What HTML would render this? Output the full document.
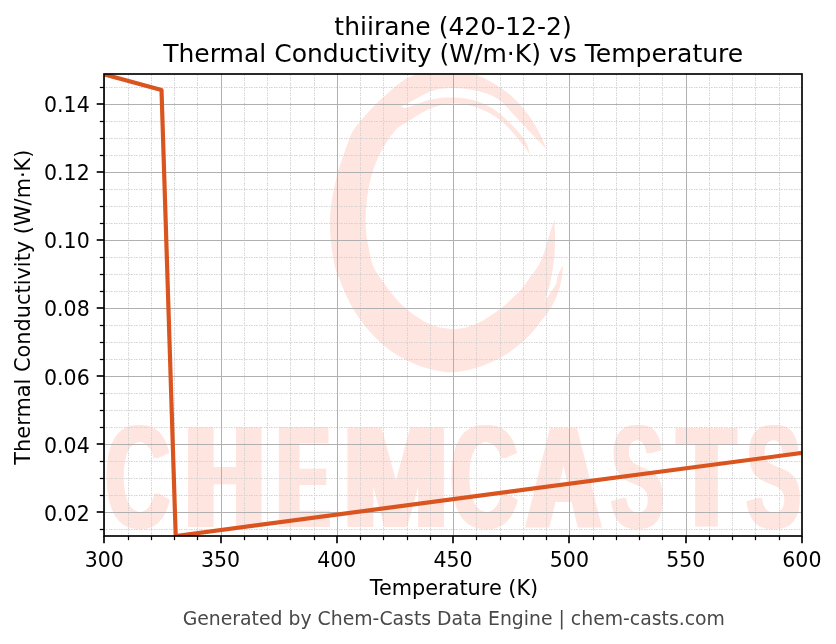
<!DOCTYPE html>
<html lang="en"><head><meta charset="utf-8"><title>thiirane (420-12-2) Thermal Conductivity vs Temperature</title>
<style>html,body{margin:0;padding:0;background:#fff}svg{display:block}</style></head>
<body>
<svg width="836" height="644" viewBox="0 0 836 644">
<defs><clipPath id="ax"><rect x="104.00" y="74.00" width="698.00" height="462.00"/></clipPath></defs>
<rect width="836" height="644" fill="#fff"/>
<g clip-path="url(#ax)" fill="#ffe5e0">
<path d="M546.6 149.3C545.6 146.9 543.5 140.8 540.5 135.0C537.5 129.2 533.0 121.1 528.3 114.7C523.5 108.3 518.1 101.8 512.0 96.4C505.9 91.0 498.5 86.0 491.7 82.2C484.9 78.4 479.6 75.4 471.0 73.5C462.4 71.6 449.1 70.8 440.0 71.0C430.9 71.2 422.7 72.8 416.4 74.5C410.1 76.2 406.6 78.5 402.2 81.3C397.8 84.1 394.5 87.2 390.0 91.2C385.5 95.2 379.4 100.6 375.0 105.0C370.6 109.4 367.1 113.3 363.5 117.5C359.9 121.7 356.1 125.9 353.5 130.0C350.9 134.1 349.8 137.9 348.2 142.0C346.6 146.1 345.1 150.6 343.6 154.8C342.1 159.0 340.6 162.9 339.4 167.0C338.1 171.1 337.5 173.4 336.1 179.6C334.7 185.8 332.2 196.9 331.2 204.4C330.2 211.9 329.9 217.7 329.9 224.3C329.9 230.9 330.4 237.1 331.2 244.1C332.0 251.1 333.5 260.5 334.9 266.5C336.3 272.5 337.8 275.0 339.8 280.0C341.8 285.0 344.1 291.1 346.8 296.7C349.5 302.3 352.4 307.9 356.0 313.5C359.6 319.1 364.0 324.9 368.6 330.2C373.2 335.5 378.3 340.8 383.6 345.3C388.9 349.8 394.2 353.5 400.4 357.0C406.5 360.5 413.8 363.8 420.5 366.2C427.2 368.6 435.1 370.3 440.6 371.3C446.1 372.3 447.5 372.7 453.4 372.1C459.3 371.5 468.2 370.3 476.0 367.9C483.8 365.5 493.7 361.2 500.3 357.9C506.9 354.5 510.6 351.4 515.4 347.8C520.1 344.2 524.6 340.4 528.8 336.1C533.0 331.8 536.9 326.5 540.5 321.9C544.1 317.3 547.7 313.0 550.5 308.5C553.3 304.0 555.4 299.9 557.2 295.1C559.0 290.4 560.4 285.0 561.4 280.0C562.4 275.0 562.9 267.5 563.2 265.0C562.4 266.6 559.5 271.2 558.2 274.5C556.9 277.8 557.2 281.6 555.6 285.0C554.0 288.4 550.7 292.3 548.9 295.1C547.1 297.9 545.4 300.7 544.7 301.8C545.5 299.0 548.5 289.6 549.7 285.0C550.9 280.4 550.9 279.4 551.7 274.5C552.5 269.6 554.0 262.1 554.5 255.9C555.0 249.7 555.0 243.4 555.0 237.3C555.0 231.2 554.6 222.6 554.5 219.6C553.7 221.9 551.5 228.1 549.8 233.5C548.1 238.9 546.1 246.9 544.2 252.2C542.3 257.5 541.1 260.8 538.6 265.2C536.1 269.6 532.1 274.4 529.3 278.3C526.5 282.2 524.9 285.0 522.0 288.4C519.1 291.8 515.3 295.2 512.0 298.4C508.7 301.6 505.6 304.7 502.0 307.6C498.4 310.5 494.5 313.3 490.2 316.0C485.9 318.7 481.0 321.8 476.0 323.9C471.0 326.0 464.8 327.8 460.0 328.6C455.2 329.4 452.2 329.3 447.3 328.6C442.4 327.9 435.8 326.5 430.5 324.4C425.2 322.3 420.2 319.2 415.5 316.0C410.8 312.8 406.3 309.2 402.1 305.1C397.9 301.1 393.7 295.9 390.3 291.7C386.9 287.5 384.8 284.2 382.0 280.0C379.2 275.8 375.6 272.1 373.3 266.5C371.0 260.9 369.6 252.8 368.4 246.6C367.2 240.4 366.3 235.1 365.9 229.3C365.5 223.5 365.5 218.5 365.9 211.9C366.3 205.3 367.2 196.6 368.4 189.6C369.6 182.6 371.0 176.3 373.3 169.7C375.6 163.1 378.3 156.5 382.0 149.9C385.7 143.3 391.5 134.7 395.7 130.0C399.9 125.3 401.5 125.5 407.3 121.9C413.1 118.3 423.1 111.7 430.7 108.6C438.3 105.5 445.6 103.8 453.0 103.5C460.4 103.2 467.2 104.3 475.0 107.0C482.8 109.7 491.6 113.3 499.8 119.8C508.0 126.3 519.1 139.9 524.2 146.2C529.3 152.5 529.3 155.5 530.3 157.4C529.3 154.3 529.3 146.4 524.2 139.1C519.1 131.8 507.5 120.0 499.8 113.7C492.1 107.4 485.8 104.2 478.0 101.5C470.2 98.8 460.9 97.8 453.0 97.5C445.1 97.2 438.3 97.8 430.7 99.5C423.1 101.2 412.2 106.4 407.3 107.6C402.4 108.8 402.1 106.8 401.0 106.6C402.1 106.1 402.4 106.1 407.3 103.6C412.2 101.1 423.1 94.0 430.7 91.4C438.3 88.8 444.9 87.9 453.0 87.9C461.1 87.9 471.7 89.4 479.5 91.5C487.3 93.6 492.4 94.8 499.8 100.5C507.2 106.2 516.4 117.8 524.2 125.9C532.0 134.0 542.9 145.4 546.6 149.3Z"/>
<filter id="fat" x="90" y="410" width="730" height="140" filterUnits="userSpaceOnUse"><feMorphology operator="dilate" radius="5 0"/></filter>
<filter id="fat2" x="90" y="410" width="730" height="140" filterUnits="userSpaceOnUse"><feMorphology operator="dilate" radius="2 0"/></filter>
<g filter="url(#fat2)" font-family="'Liberation Sans', 'DejaVu Sans', sans-serif" font-weight="bold">
<text transform="translate(104.77,528.07) scale(0.9101,1.4689)" font-size="100">C</text>
<text transform="translate(449.58,528.07) scale(0.9559,1.4689)" font-size="100">C</text>
<text transform="translate(610.69,528.07) scale(0.8012,1.4689)" font-size="100">S</text>
<text transform="translate(746.12,528.07) scale(0.8262,1.4689)" font-size="100">S</text>
</g>
<g filter="url(#fat)" font-family="'Liberation Sans', 'DejaVu Sans', sans-serif" font-weight="bold">
<text transform="translate(185.77,526.50) scale(1.0801,1.4462)" font-size="100">H</text>
<text transform="translate(279.11,526.50) scale(0.7308,1.4462)" font-size="100">E</text>
<text transform="translate(344.22,526.50) scale(1.2371,1.4462)" font-size="100">M</text>
<text transform="translate(527.51,526.50) scale(0.9987,1.4462)" font-size="100">A</text>
<text transform="translate(679.51,526.50) scale(0.8831,1.4317)" font-size="100">T</text>
</g>

</g>
<g clip-path="url(#ax)" stroke="#d0d0d0" stroke-width="0.9" stroke-dasharray="1.2 0.6 1.8 1.4" fill="none">
<path d="M128.5 536.0V74.0"/>
<path d="M151.5 536.0V74.0"/>
<path d="M174.5 536.0V74.0"/>
<path d="M197.5 536.0V74.0"/>
<path d="M244.5 536.0V74.0"/>
<path d="M267.5 536.0V74.0"/>
<path d="M290.5 536.0V74.0"/>
<path d="M314.5 536.0V74.0"/>
<path d="M360.5 536.0V74.0"/>
<path d="M383.5 536.0V74.0"/>
<path d="M407.5 536.0V74.0"/>
<path d="M430.5 536.0V74.0"/>
<path d="M476.5 536.0V74.0"/>
<path d="M500.5 536.0V74.0"/>
<path d="M523.5 536.0V74.0"/>
<path d="M546.5 536.0V74.0"/>
<path d="M593.5 536.0V74.0"/>
<path d="M616.5 536.0V74.0"/>
<path d="M639.5 536.0V74.0"/>
<path d="M662.5 536.0V74.0"/>
<path d="M709.5 536.0V74.0"/>
<path d="M732.5 536.0V74.0"/>
<path d="M755.5 536.0V74.0"/>
<path d="M779.5 536.0V74.0"/>
<path d="M104.0 529.5H802.0"/>
<path d="M104.0 495.5H802.0"/>
<path d="M104.0 478.5H802.0"/>
<path d="M104.0 461.5H802.0"/>
<path d="M104.0 427.5H802.0"/>
<path d="M104.0 410.5H802.0"/>
<path d="M104.0 393.5H802.0"/>
<path d="M104.0 359.5H802.0"/>
<path d="M104.0 342.5H802.0"/>
<path d="M104.0 325.5H802.0"/>
<path d="M104.0 291.5H802.0"/>
<path d="M104.0 274.5H802.0"/>
<path d="M104.0 257.5H802.0"/>
<path d="M104.0 223.5H802.0"/>
<path d="M104.0 206.5H802.0"/>
<path d="M104.0 189.5H802.0"/>
<path d="M104.0 155.5H802.0"/>
<path d="M104.0 138.5H802.0"/>
<path d="M104.0 121.5H802.0"/>
<path d="M104.0 87.5H802.0"/>
</g>
<g clip-path="url(#ax)" stroke="#b0b0b0" stroke-width="1" fill="none">
<path d="M104.5 536.0V74.0"/>
<path d="M221.5 536.0V74.0"/>
<path d="M337.5 536.0V74.0"/>
<path d="M453.5 536.0V74.0"/>
<path d="M569.5 536.0V74.0"/>
<path d="M686.5 536.0V74.0"/>
<path d="M802.5 536.0V74.0"/>
<path d="M104.0 512.5H802.0"/>
<path d="M104.0 444.5H802.0"/>
<path d="M104.0 376.5H802.0"/>
<path d="M104.0 308.5H802.0"/>
<path d="M104.0 240.5H802.0"/>
<path d="M104.0 172.5H802.0"/>
<path d="M104.0 104.5H802.0"/>
</g>
<path clip-path="url(#ax)" d="M104.00 74.30 L161.50 89.90 L175.70 536.00 L802.00 452.90" fill="none" stroke="#d9541e" stroke-width="4.17" stroke-linejoin="round" stroke-linecap="butt"/>
<g stroke="#000" fill="none">
<g stroke-width="1.67">
<path d="M104 536.0v7.3"/>
<path d="M221 536.0v7.3"/>
<path d="M337 536.0v7.3"/>
<path d="M453 536.0v7.3"/>
<path d="M569 536.0v7.3"/>
<path d="M686 536.0v7.3"/>
<path d="M802 536.0v7.3"/>
<path d="M104.0 512h-7.3"/>
<path d="M104.0 444h-7.3"/>
<path d="M104.0 376h-7.3"/>
<path d="M104.0 308h-7.3"/>
<path d="M104.0 240h-7.3"/>
<path d="M104.0 172h-7.3"/>
<path d="M104.0 104h-7.3"/>
</g><g stroke-width="1.25">
<path d="M128.5 536.0v4.17"/>
<path d="M151.5 536.0v4.17"/>
<path d="M174.5 536.0v4.17"/>
<path d="M197.5 536.0v4.17"/>
<path d="M244.5 536.0v4.17"/>
<path d="M267.5 536.0v4.17"/>
<path d="M290.5 536.0v4.17"/>
<path d="M314.5 536.0v4.17"/>
<path d="M360.5 536.0v4.17"/>
<path d="M383.5 536.0v4.17"/>
<path d="M407.5 536.0v4.17"/>
<path d="M430.5 536.0v4.17"/>
<path d="M476.5 536.0v4.17"/>
<path d="M500.5 536.0v4.17"/>
<path d="M523.5 536.0v4.17"/>
<path d="M546.5 536.0v4.17"/>
<path d="M593.5 536.0v4.17"/>
<path d="M616.5 536.0v4.17"/>
<path d="M639.5 536.0v4.17"/>
<path d="M662.5 536.0v4.17"/>
<path d="M709.5 536.0v4.17"/>
<path d="M732.5 536.0v4.17"/>
<path d="M755.5 536.0v4.17"/>
<path d="M779.5 536.0v4.17"/>
<path d="M104.0 529.5h-4.17"/>
<path d="M104.0 495.5h-4.17"/>
<path d="M104.0 478.5h-4.17"/>
<path d="M104.0 461.5h-4.17"/>
<path d="M104.0 427.5h-4.17"/>
<path d="M104.0 410.5h-4.17"/>
<path d="M104.0 393.5h-4.17"/>
<path d="M104.0 359.5h-4.17"/>
<path d="M104.0 342.5h-4.17"/>
<path d="M104.0 325.5h-4.17"/>
<path d="M104.0 291.5h-4.17"/>
<path d="M104.0 274.5h-4.17"/>
<path d="M104.0 257.5h-4.17"/>
<path d="M104.0 223.5h-4.17"/>
<path d="M104.0 206.5h-4.17"/>
<path d="M104.0 189.5h-4.17"/>
<path d="M104.0 155.5h-4.17"/>
<path d="M104.0 138.5h-4.17"/>
<path d="M104.0 121.5h-4.17"/>
<path d="M104.0 87.5h-4.17"/>
</g>
<rect x="104.0" y="74.0" width="698.0" height="462.0" stroke-width="1.67" stroke-linejoin="miter"/>
</g>
<g font-family="'DejaVu Sans', 'Liberation Sans', sans-serif" fill="#000">
<g font-size="20.5" text-anchor="middle">
<text x="104.3" y="566.9">300</text>
<text x="220.6" y="566.9">350</text>
<text x="336.8" y="566.9">400</text>
<text x="453.1" y="566.9">450</text>
<text x="569.4" y="566.9">500</text>
<text x="685.7" y="566.9">550</text>
<text x="801.9" y="566.9">600</text>
</g><g font-size="20.5" text-anchor="end">
<text x="89.7" y="521.0">0.02</text>
<text x="89.7" y="453.0">0.04</text>
<text x="89.7" y="385.0">0.06</text>
<text x="89.7" y="316.0">0.08</text>
<text x="89.7" y="248.0">0.10</text>
<text x="89.7" y="180.0">0.12</text>
<text x="89.7" y="112.0">0.14</text>
</g>
<text x="454.0" y="594.8" font-size="20.83" text-anchor="middle">Temperature (K)</text>
<text transform="translate(30.2,307.1) rotate(-90)" font-size="20.89" text-anchor="middle">Thermal Conductivity (W/m·K)</text>
<text x="453.0" y="34.8" font-size="25" text-anchor="middle">thiirane (420-12-2)</text>
<text x="453.2" y="61.7" font-size="25.04" text-anchor="middle">Thermal Conductivity (W/m·K) vs Temperature</text>
<text x="453.8" y="624.8" font-size="18.84" text-anchor="middle" fill="#484848">Generated by Chem-Casts Data Engine | chem-casts.com</text>
</g>
</svg>
</body></html>
